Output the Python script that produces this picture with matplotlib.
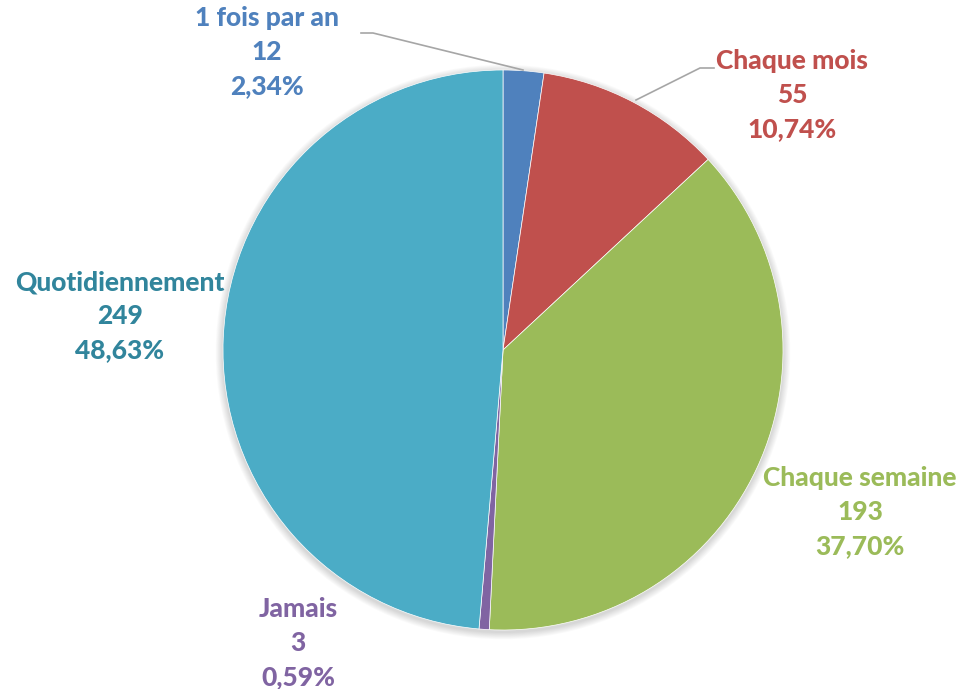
import matplotlib
matplotlib.use("Agg")
import matplotlib.pyplot as plt
from matplotlib.patches import Circle

categories = ["1 fois par an", "Chaque mois", "Chaque semaine", "Jamais", "Quotidiennement"]
values = [12, 55, 193, 3, 249]
percents = ["2,34%", "10,74%", "37,70%", "0,59%", "48,63%"]
colors = ["#4F81BD", "#C0504D", "#9BBB59", "#8064A2", "#4BACC6"]
text_colors = ["#4F81BD", "#C0504D", "#9BBB59", "#8064A2", "#31859C"]

W, H = 972, 689
fig = plt.figure(figsize=(9.72, 6.89), dpi=100)
ax = fig.add_axes([0, 0, 1, 1])

cx, cy, r = 503, H - 350, 280

# soft shadow
for i in range(8):
    ax.add_patch(Circle((cx, cy - 2), r + 1 + i * 0.9, color="black",
                        alpha=0.018, lw=0, zorder=0))

ax.pie(values, colors=colors, startangle=90, counterclock=False,
       center=(cx, cy), radius=r, frame=True,
       wedgeprops=dict(linewidth=0.5, edgecolor="white"))
ax.set_xlim(0, W)
ax.set_ylim(0, H)
ax.set_aspect("equal")
ax.axis("off")

# label positions (pixel coords of middle line, y from top)
label_pos = [(267, 52), (792, 95), (860, 512), (298, 643), (120, 316)]
for i, (x, y) in enumerate(label_pos):
    txt = f"{categories[i]}\n{values[i]}\n{percents[i]}"
    ax.text(x, H - y, txt, ha="center", va="center", fontsize=19,
            fontweight=900, family=["Lato", "DejaVu Sans"],
            color=text_colors[i], linespacing=1.48)

# leader lines
ax.plot([361, 373, 523], [H - 33, H - 33, H - 70], color="#A6A6A6", lw=1.2)
ax.plot([714, 700, 636], [H - 68, H - 68, H - 100], color="#A6A6A6", lw=1.2)

fig.savefig("out.png", dpi=100)
